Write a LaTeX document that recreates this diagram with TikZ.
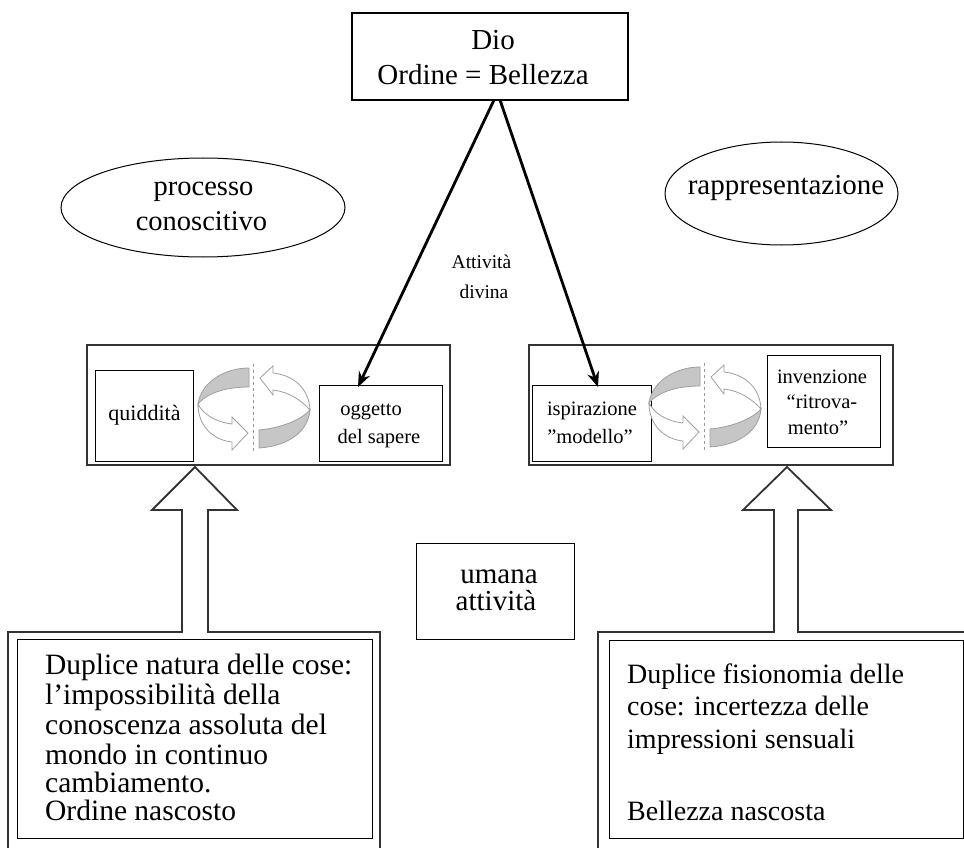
\documentclass[tikz,border=0pt]{standalone}
\usepackage{fontspec}
\setmainfont{Liberation Serif}
\usetikzlibrary{shapes.geometric,arrows.meta}
\newcommand\fz[1]{\fontsize{#1}{#1}\selectfont}
\begin{document}
\begin{tikzpicture}[x=1pt,y=-1pt,
  frame/.style={draw=black!80, line width=1.8pt},
  cont/.style={rectangle, draw=black!80, line width=1.8pt, inner sep=0pt},
  ibox/.style={rectangle, draw=black, line width=1pt, inner sep=0pt},
  oval/.style={ellipse, draw=black, line width=1pt, inner sep=0pt},
  txt/.style={anchor=base, inner sep=0pt},
  para/.style={anchor=north west, inner sep=0pt, align=left},
  slant/.style={line width=2.8pt, black, -{Stealth[length=15pt,width=12pt]}},
  band/.style={fill=gray!45, draw=gray!75, line width=0.8pt},
  warrow/.style={fill=white, draw=gray!75, line width=0.8pt},
  cyc/.pic={
    \draw[band] (-4,-40) .. controls (-28,-40) and (-52,-26) .. (-55,-4)
                .. controls (-45,-16) and (-25,-21) .. (-4,-21) -- cycle;
    \draw[warrow] (-55,-4) .. controls (-55,18) and (-40,32) .. (-21,34)
                -- (-21,42) -- (-5,25) -- (-21,9) -- (-21,16)
                .. controls (-38,14) and (-50,6) .. (-55,-4) -- cycle;
    \draw[warrow] (7,-30) -- (20,-42) -- (20,-35)
                .. controls (40,-33) and (56,-20) .. (57,2)
                .. controls (48,-8) and (36,-16) .. (20,-18) -- (20,-13) -- cycle;
    \draw[band] (57,2) .. controls (55,24) and (35,38) .. (6,40) -- (6,22)
                .. controls (28,20) and (48,12) .. (57,2) -- cycle;
    \draw[gray!80, line width=1pt, dashed] (0,-44) -- (0,44);
  }]
\useasboundingbox (0,0) rectangle (964,848);
\clip (0,0) rectangle (964,848);
\fill[white] (0,0) rectangle (964,848);

% top box
\node[ibox, line width=1.2pt, minimum width=276pt, minimum height=87pt] (dio) at (490,56.5) {};
\node[txt, font=\fz{29}] (dio1) at (493,50) {Dio};
\node[txt, font=\fz{29}] (dio2) at (483,85) {Ordine = Bellezza};

% ellipses
\node[oval, minimum width=284pt, minimum height=99pt] (e1) at (203,207.5) {};
\node[txt, font=\fz{28.5}] (e1a) at (203.5,195) {processo};
\node[txt, font=\fz{28.5}] (e1b) at (201.5,230) {conoscitivo};
\node[oval, minimum width=233pt, minimum height=103pt] (e2) at (781.5,193.5) {};
\node[txt, font=\fz{29}] (e2a) at (786,194) {rappresentazione};

% divine activity label
\node[txt, font=\fz{19.5}] (ad1) at (481.5,268) {Attività};
\node[txt, font=\fz{19.5}] (ad2) at (484,298) {divina};

% containers
\node[cont, minimum width=363pt, minimum height=120pt] (lc) at (268.5,405) {};
\node[cont, minimum width=364pt, minimum height=120pt] (rc) at (711,405) {};

% inner boxes
\node[ibox, minimum width=98pt, minimum height=91pt] (quid) at (144,415.5) {};
\node[txt, font=\fz{22}] at (144.5,420) {quiddità};
\node[ibox, minimum width=123pt, minimum height=76pt] (ogg) at (380.5,423) {};
\node[txt, font=\fz{20.5}] at (371,415) {oggetto};
\node[txt, font=\fz{20.5}] at (379,443) {del sapere};

\node[ibox, minimum width=119pt, minimum height=76pt] (isp) at (591.5,423) {};
\node[txt, font=\fz{20.5}] at (592,415) {ispirazione};
\node[txt, font=\fz{20.5}] at (590,443) {”modello”};
\node[ibox, minimum width=113pt, minimum height=92pt] (inv) at (823.5,401) {};
\node[txt, font=\fz{20.5}] at (822,383) {invenzione};
\node[txt, font=\fz{20.5}] at (822,408) {“ritrova-};
\node[txt, font=\fz{20.5}] at (818,434) {mento”};

% cycle icons
\pic at (253,408) {cyc};
\pic at (704,407) {cyc};

% slanted arrows from Dio
\coordinate (dL) at (494,100);
\coordinate (dR) at (500,100);
\coordinate (tL) at (358,387);
\coordinate (tR) at (598,387);
\draw[slant] (dL) -- (tL);
\draw[slant] (dR) -- (tR);

% human activity
\node[ibox, minimum width=158pt, minimum height=96pt] (um) at (495,591) {};
\node[txt, font=\fz{29}] at (499,583) {umana};
\node[txt, font=\fz{29}] at (496,610) {attività};

% bottom frames with block arrows
\draw[frame, line join=miter] (8,870) -- (8,632) -- (182,632) -- (182,510) -- (152,510)
  -- (195,467) -- (237,510) -- (208,510) -- (208,632) -- (380,632) -- (380,870);
\draw[frame, line join=miter] (598,870) -- (598,632) -- (774,632) -- (774,510) -- (743,510)
  -- (787,467) -- (831,510) -- (798,510) -- (798,632) -- (980,632);

% bottom inner boxes
\node[ibox, minimum width=355pt, minimum height=199pt] (bl) at (194.5,738.5) {};
\node[para, font=\fontsize{29.5}{30}\selectfont] (blt) at (45,654)
  {Duplice natura delle cose:\\[0pt]
   l’impossibilità della\\[0pt]
   conoscenza assoluta del\\[0pt]
   mondo in continuo\\[-2pt]
   cambiamento.\\[-2pt]
   Ordine nascosto};

\node[ibox, minimum width=354pt, minimum height=198pt] (br) at (786,739) {};
\node[para, font=\fontsize{28}{32}\selectfont] (brt) at (627,664)
  {Duplice fisionomia delle\\[0pt]
   cose: incertezza delle\\[1pt]
   impressioni sensuali\\[40pt]
   Bellezza nascosta};
\end{tikzpicture}
\end{document}
